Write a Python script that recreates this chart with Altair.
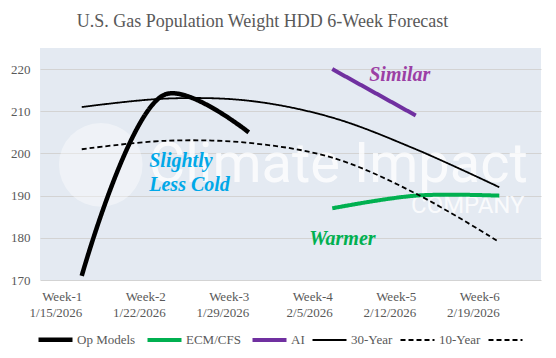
import altair as alt
import pandas as pd

weeks = ["Week-1", "Week-2", "Week-3", "Week-4", "Week-5", "Week-6"]
dates = ["1/15/2026", "1/22/2026", "1/29/2026", "2/5/2026", "2/12/2026", "2/19/2026"]
series_names = ["Op Models", "ECM/CFS", "AI", "30-Year", "10-Year", " "]

op_models = [171, 214, 205, None, None, None]
ecm_cfs = [None, None, None, 187, 190, 190]
ai_vals = [None, None, None, 220, 209, None]
yr30 = [211, 213, 212.5, 208.5, 201, 192]
yr10 = [201, 203, 202.5, 199, 190.5, 179]

y_ticks = list(range(170, 226, 5))

cats = [f"{w} {d}" for w, d in zip(weeks, dates)]

rows = []
for name, vals in [("Op Models", op_models), ("ECM/CFS", ecm_cfs), ("AI", ai_vals),
                   ("30-Year", yr30), ("10-Year", yr10)]:
    for c, v in zip(cats, vals):
        if v is not None:
            rows.append({"cat": c, "value": v, "series": name})
df = pd.DataFrame(rows)

FONT = "Liberation Serif, Times New Roman, DejaVu Serif, serif"
WMFONT = "Roboto, sans-serif"
GRAY = "#595959"

X_SHARED = dict(sort=cats, scale=alt.Scale(domain=cats))
Y_SCALE = alt.Scale(domain=[170, 225], nice=False, zero=False)

x_enc = alt.X("cat:N", title=None, **X_SHARED,
              axis=alt.Axis(labelExpr="split(datum.value, ' ')", labelAngle=0,
                            labelFont=FONT, labelFontSize=13, labelColor=GRAY,
                            labelLineHeight=16, labelPadding=16, ticks=False,
                            domain=False, grid=False))
y_enc = alt.Y("value:Q", title=None, scale=Y_SCALE,
              axis=alt.Axis(values=y_ticks, labelFont=FONT, labelFontSize=13,
                            labelColor=GRAY, labelPadding=10, ticks=False,
                            domain=False, grid=True, gridColor="#D3D3D3",
                            gridWidth=1))

lines = alt.Chart(df).mark_line(interpolate="catmull-rom").encode(
    x=x_enc,
    y=y_enc,
    color=alt.Color("series:N", scale=alt.Scale(
        domain=series_names,
        range=["#000000", "#00B050", "#7030A0", "#000000", "#000000", "#000000"]),
        legend=alt.Legend(title=None, orient="none", legendX=-4, legendY=272,
                          direction="horizontal", columns=6,
                          symbolType="stroke", symbolSize=1156,
                          labelFont=FONT, labelFontSize=13, labelColor=GRAY,
                          labelOffset=2, columnPadding=3)),
    strokeDash=alt.StrokeDash("series:N", scale=alt.Scale(
        domain=series_names,
        range=[[1, 0], [1, 0], [1, 0], [1, 0], [5, 3], [5, 3]]),
        legend=alt.Legend(title=None)),
    strokeWidth=alt.StrokeWidth("series:N", scale=alt.Scale(
        type="ordinal",
        domain=series_names, range=[4.5, 4, 4, 1.8, 1.8, 1.8]),
        legend=alt.Legend(title=None)),
    detail="series:N",
)

# watermark (logo + company name)
globe_df = pd.DataFrame({"cat": [cats[0]], "value": [197.3]})
globe = alt.Chart(globe_df).mark_point(shape="circle", filled=True, size=7000,
                                        color="white", opacity=0.4).encode(
    x=alt.X("cat:N", **X_SHARED), y=alt.Y("value:Q", scale=Y_SCALE),
    xOffset=alt.value(19))
wm = pd.DataFrame({"cat": [cats[3]], "value": [193.2], "text": ["Climate Impact"]})
watermark = alt.Chart(wm).mark_text(font=WMFONT, fontSize=56, color="white",
                                     opacity=0.8, dx=6, baseline="alphabetic",
                                     align="center").encode(
    x=alt.X("cat:N", **X_SHARED), y=alt.Y("value:Q", scale=Y_SCALE), text="text:N")
wm2 = pd.DataFrame({"cat": [cats[4]], "value": [185.9], "text": ["COMPANY"]})
watermark2 = alt.Chart(wm2).mark_text(font=WMFONT, fontSize=24, color="white",
                                       opacity=0.8, dx=52, baseline="alphabetic",
                                       align="center").encode(
    x=alt.X("cat:N", **X_SHARED), y=alt.Y("value:Q", scale=Y_SCALE), text="text:N")

ann_similar = pd.DataFrame({"cat": [cats[3]], "value": [218.6], "text": ["Similar"]})
ann_cold = pd.DataFrame({"cat": [cats[1], cats[1]], "value": [198.2, 192.5],
                         "text": ["Slightly", "Less Cold"]})
ann_warm = pd.DataFrame({"cat": [cats[3]], "value": [179.7], "text": ["Warmer"]})


def ann(data, color, dx):
    return alt.Chart(data).mark_text(font=FONT, fontSize=20, fontStyle="italic",
                                     fontWeight="bold", color=color, align="left",
                                     baseline="middle", dx=dx).encode(
        x=alt.X("cat:N", **X_SHARED), y=alt.Y("value:Q", scale=Y_SCALE),
        text="text:N")


chart = alt.layer(
    globe, watermark, watermark2, lines,
    ann(ann_similar, "#9B3FA5", 37),
    ann(ann_cold, "#00A8E8", -16),
    ann(ann_warm, "#00B050", -23),
).properties(
    width=501, height=232,
    autosize=alt.AutoSizeParams(type="none"),
    padding={"left": 32, "top": 40, "right": 7, "bottom": 70},
    title=alt.TitleParams("U.S. Gas Population Weight HDD 6-Week Forecast",
                          font=FONT, fontSize=18, fontWeight="normal",
                          color=GRAY, offset=17, dx=-28, anchor="middle"),
).configure(background="white").configure_view(fill="#E4EAF2", stroke=None)

chart.save("out.html", embed_options={"renderer": "svg", "actions": False})
